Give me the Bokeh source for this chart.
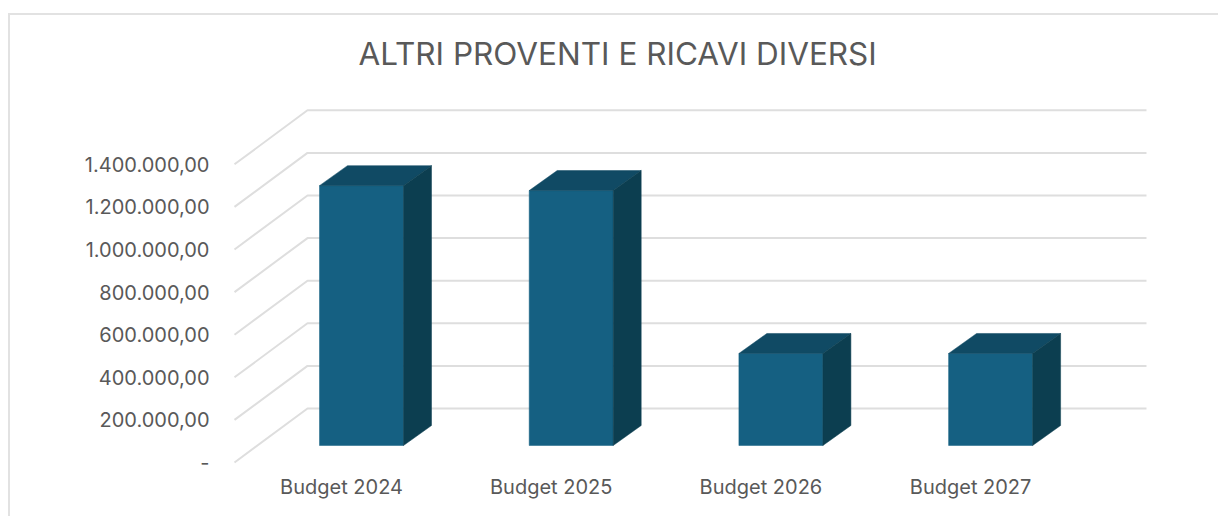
from bokeh.plotting import figure
from bokeh.models import FixedTicker, Range1d
from bokeh.embed import file_html
from bokeh.resources import INLINE

categories = ["Budget 2024", "Budget 2025", "Budget 2026", "Budget 2027"]
values = [1220000, 1197000, 432000, 432000]
tick_values = [0, 200000, 400000, 600000, 800000, 1000000, 1200000, 1400000]
tick_labels = ["-", "200.000,00", "400.000,00", "600.000,00", "800.000,00",
               "1.000.000,00", "1.200.000,00", "1.400.000,00"]
title_text = "ALTRI PROVENTI E RICAVI DIVERSI"

PX_X = 209.7            # px per category
PX_Y = 213 / 1e6        # px per value unit
ux = lambda px: px / PX_X
uy = lambda px: px / PX_Y

H = 501
L, R, T, B = 216, 1208, 62, 457   # frame inside the figure content box
x_zero, y_zero = 331.0, 447.0     # first label centre, value 0 within content box

p = figure(frame_width=R - L, frame_height=B - T, output_backend="svg", toolbar_location=None,
           x_range=Range1d((L - x_zero) / PX_X, (R - x_zero) / PX_X),
           y_range=Range1d((y_zero - B) / PX_Y, (y_zero - T) / PX_Y),
           min_border_left=L, min_border_right=0, min_border_top=T, min_border_bottom=H - B,
           title=title_text, margin=(13, 0, 0, 8))
p.styles = {"border-top": "2px solid #e2e2e2", "border-left": "2px solid #e2e2e2"}
p.outline_line_color = None
p.background_fill_color = None
p.border_fill_color = "white"
p.grid.visible = False

p.title.align = "left"
p.title.offset = 358 - (L + 10)
p.title.standoff = 10
p.title.text_font = "Inter"
p.title.text_font_style = "normal"
p.title.text_font_size = "31.5px"
p.title.text_color = "#595959"

p.yaxis.ticker = FixedTicker(ticks=tick_values)
p.yaxis.major_label_overrides = {v: s for v, s in zip(tick_values, tick_labels)}
p.yaxis.axis_line_color = None
p.yaxis.major_tick_line_color = None
p.yaxis.minor_tick_line_color = None
p.yaxis.major_label_standoff = 11
p.yaxis.major_label_text_font = "Inter"
p.yaxis.major_label_text_font_size = "20px"
p.yaxis.major_label_text_color = "#595959"

p.xaxis.ticker = FixedTicker(ticks=list(range(len(categories))))
p.xaxis.major_label_overrides = {i: c for i, c in enumerate(categories)}
p.xaxis.axis_line_color = None
p.xaxis.major_tick_line_color = None
p.xaxis.minor_tick_line_color = None
p.xaxis.major_label_standoff = -4
p.xaxis.major_label_text_font = "Inter"
p.xaxis.major_label_text_font_size = "20px"
p.xaxis.major_label_text_color = "#595959"

# 3D gridlines: front edge -> back wall -> right end
gx0, gdx, gdy, gx1 = ux(234 - 341), ux(73), uy(54), ux(1146 - 341)
p.multi_line([[gx0, gx0 + gdx, gx1] for _ in tick_values],
             [[v, v + gdy, v + gdy] for v in tick_values],
             line_color="#dedede", line_width=2)

# 3D bars
shift = ux(20); hw = ux(42)
base = uy(462 - 445)
ddx, ddy = ux(28), uy(20)
for i, v in enumerate(values):
    x0, x1 = i + shift - hw, i + shift + hw
    y0, y1 = base, base + v
    p.patch([x0, x1, x1, x0], [y0, y0, y1, y1], fill_color="#156082", line_color="#156082", line_width=0.5)
    p.patch([x0, x1, x1 + ddx, x0 + ddx], [y1, y1, y1 + ddy, y1 + ddy], fill_color="#104a64", line_color="#104a64", line_width=0.5)
    p.patch([x1, x1 + ddx, x1 + ddx, x1], [y0, y0 + ddy, y1 + ddy, y1], fill_color="#0c3e50", line_color="#0c3e50", line_width=0.5)

open("out.html", "w").write(file_html(p, INLINE))
